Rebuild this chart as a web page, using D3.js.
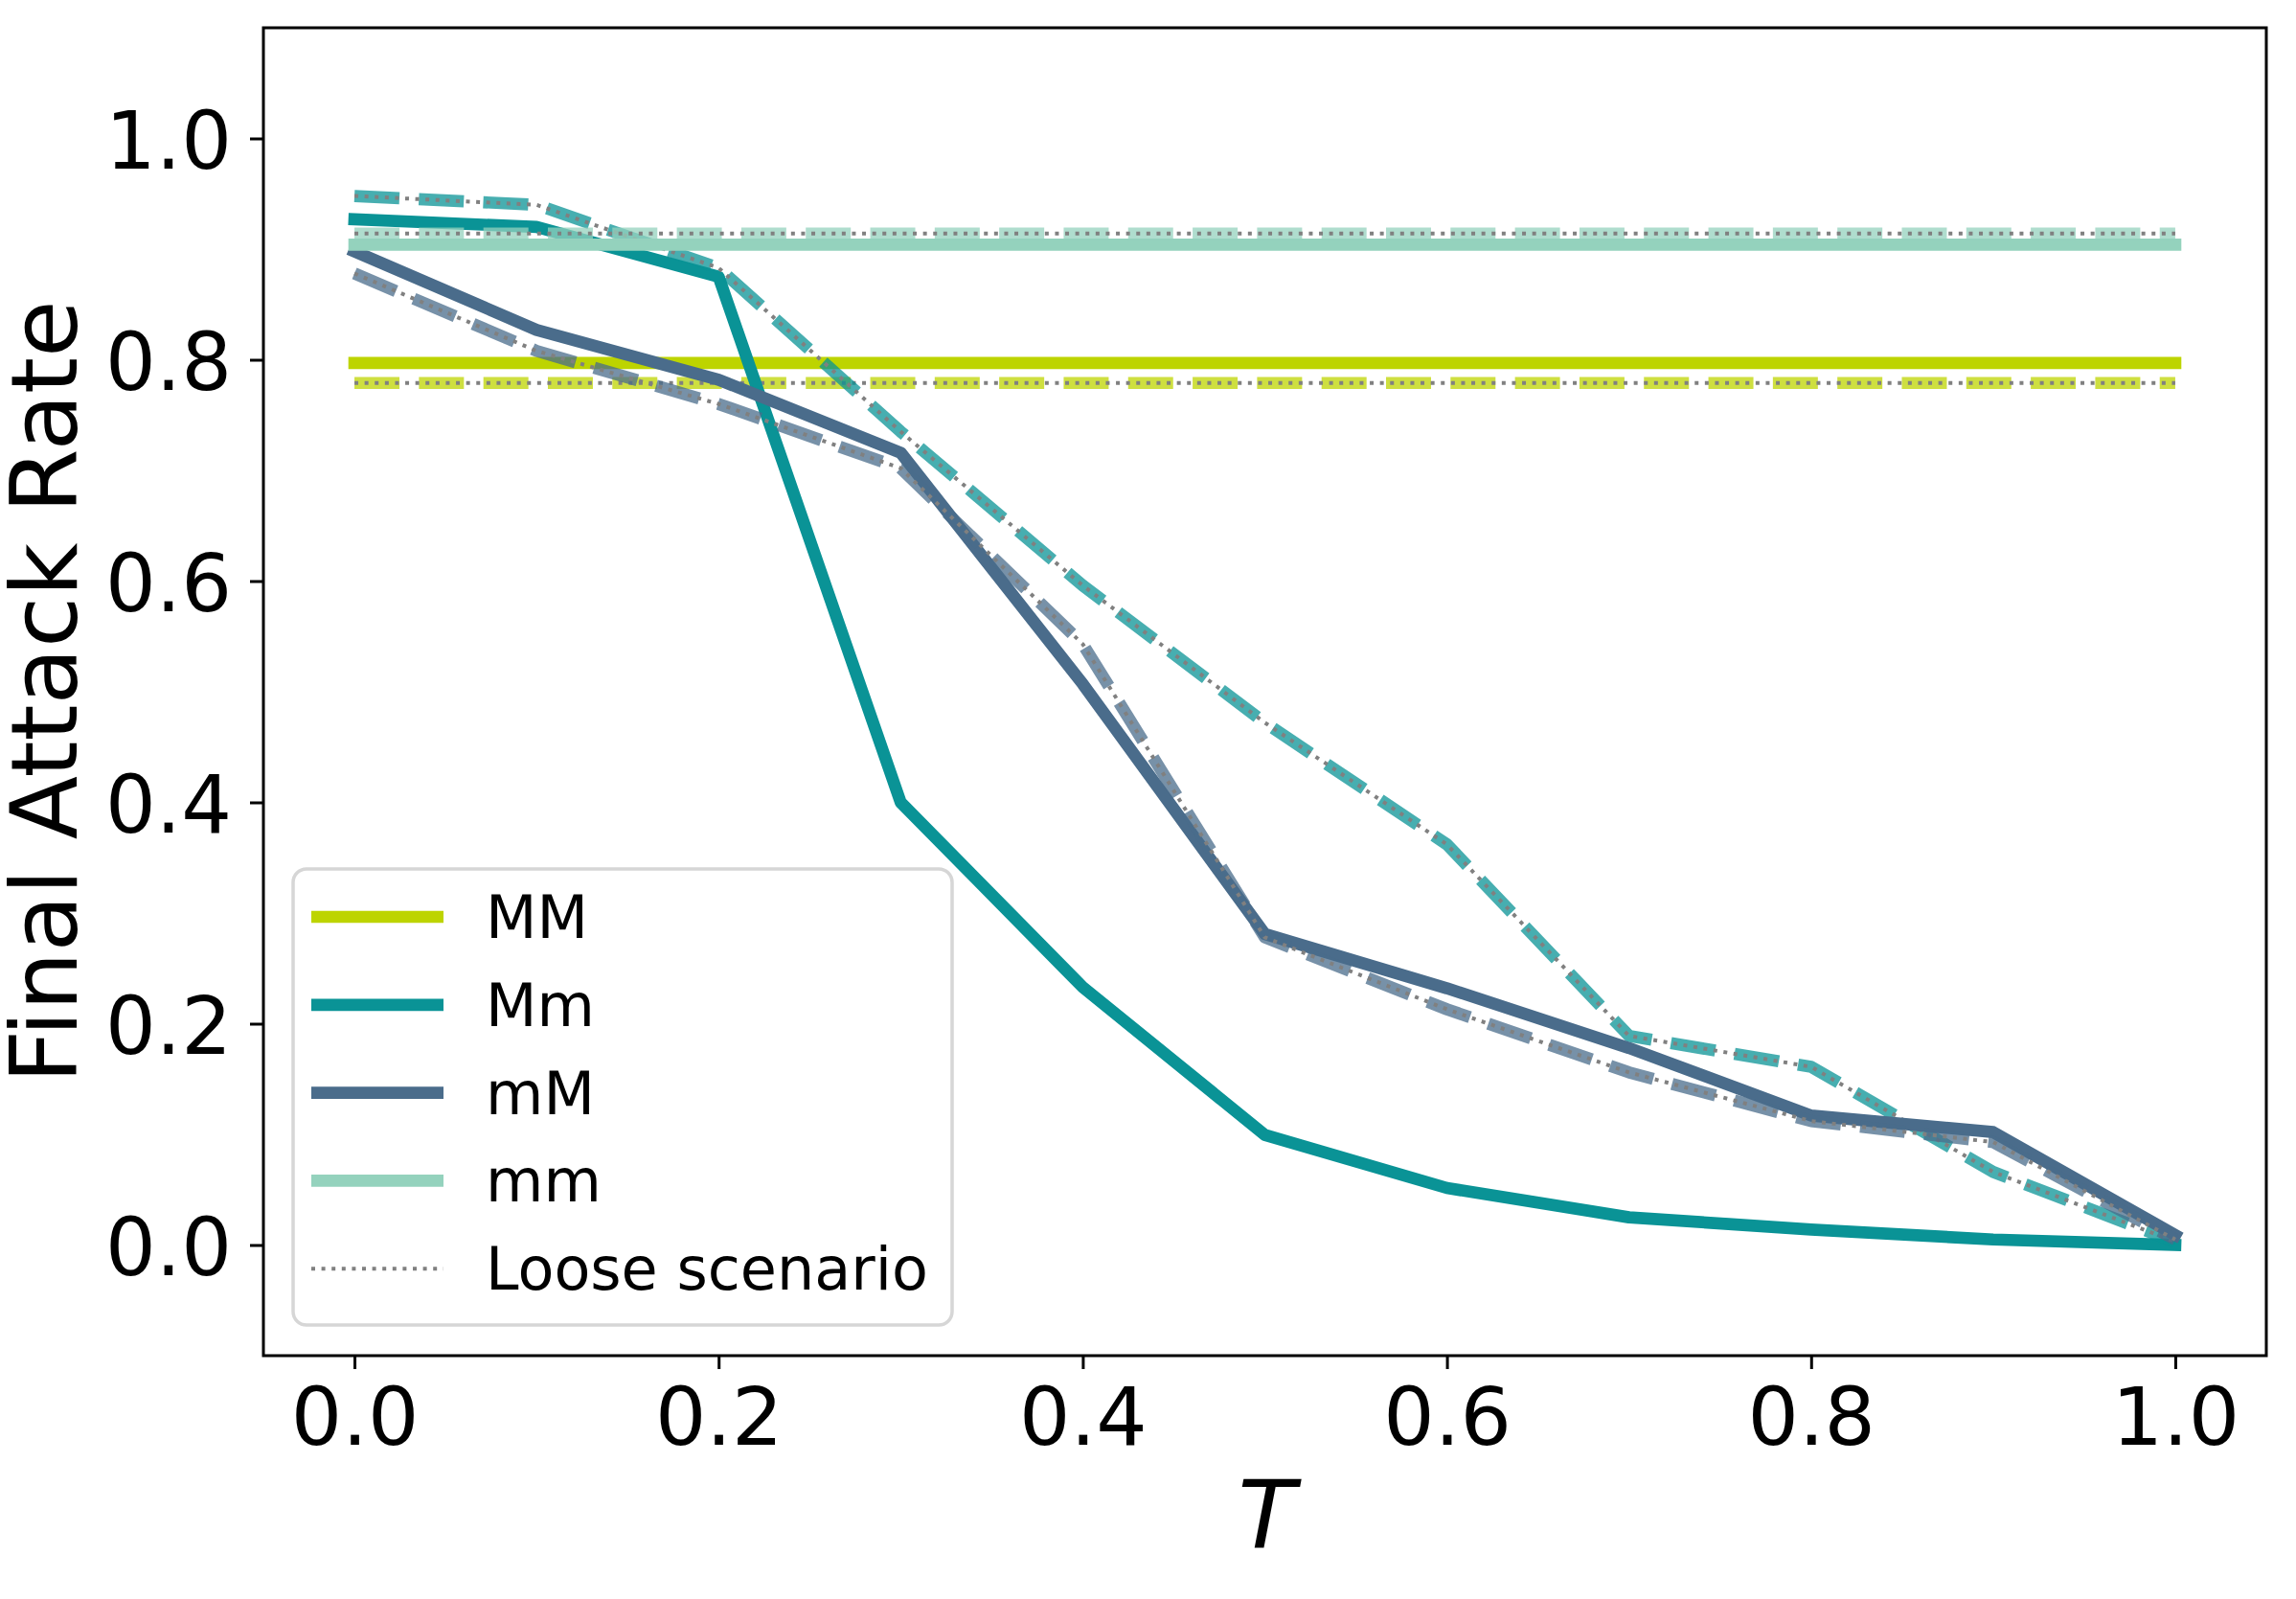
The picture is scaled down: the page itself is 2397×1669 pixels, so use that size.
<!DOCTYPE html>
<html>
<head>
<meta charset="utf-8">
<script src="https://cdn.jsdelivr.net/npm/d3@7"></script>
<style>
  body { margin: 0; background: #fff; }
  svg { display: block; font-family: "DejaVu Sans", sans-serif; }
</style>
</head>
<body>
<div id="chart"></div>
<script>
// data (T = 0 .. 1 in steps of 0.1)
var T = [0.0, 0.1, 0.2, 0.3, 0.4, 0.5, 0.6, 0.7, 0.8, 0.9, 1.0]

var MM_strict = [0.797, 0.797, 0.797, 0.797, 0.797, 0.797, 0.797, 0.797, 0.797, 0.797, 0.797]
var MM_loose  = [0.779, 0.779, 0.779, 0.779, 0.779, 0.779, 0.779, 0.779, 0.779, 0.779, 0.779]
var Mm_strict = [0.927, 0.920, 0.875, 0.400, 0.233, 0.0995, 0.0515, 0.025, 0.014, 0.005, 0.000]
var Mm_loose  = [0.948, 0.940, 0.883, 0.735, 0.596, 0.472, 0.362, 0.189, 0.161, 0.066, 0.003]
var mM_strict = [0.898, 0.827, 0.782, 0.716, 0.507, 0.281, 0.232, 0.178, 0.117, 0.102, 0.009]
var mM_loose  = [0.878, 0.808, 0.760, 0.702, 0.543, 0.278, 0.213, 0.156, 0.112, 0.093, 0.005]
var mm_strict = [0.904, 0.904, 0.904, 0.904, 0.904, 0.904, 0.904, 0.904, 0.904, 0.904, 0.904]
var mm_loose  = [0.914, 0.914, 0.914, 0.914, 0.914, 0.914, 0.914, 0.914, 0.914, 0.914, 0.914]

var groups = ["MM", "Mm", "mM", "mm"]
var colors = ["#bdd400", "#0a9396", "#4a6c8b", "#94d2bd"]
var strict = [MM_strict, Mm_strict, mM_strict, mm_strict]
var loose = [MM_loose, Mm_loose, mM_loose, mm_loose]

var xTicks = [0, 0.2, 0.4, 0.6, 0.8, 1.0]
var yTicks = [0, 0.2, 0.4, 0.6, 0.8, 1.0]

// dimensions (plot area in page pixels)
var width = 2397,
    height = 1669
var pLeft = 275, pRight = 2366, pTop = 29, pBottom = 1415
var lw = 12.7

var svg = d3.select("#chart")
  .append("svg")
    .attr("width", width)
    .attr("height", height)

var x = d3.scaleLinear().domain([-0.05, 1.05]).range([pLeft, pRight])
var y = d3.scaleLinear().domain([-0.1, 1.1]).range([pBottom, pTop])

var line = d3.line()
  .x(function(d) { return x(d[0]) })
  .y(function(d) { return y(d[1]) })

function pts(vals) { return T.map(function(t, i) { return [t, vals[i]] }) }

// lines: solid = strict, dashed + grey dots = loose scenario
groups.forEach(function(g, i) {
  svg.append("path")
    .attr("d", line(pts(strict[i])))
    .attr("fill", "none")
    .attr("stroke", colors[i])
    .attr("stroke-width", lw)
    .attr("stroke-linecap", "square")
    .attr("stroke-linejoin", "round")

  svg.append("path")
    .attr("d", line(pts(loose[i])))
    .attr("fill", "none")
    .attr("stroke", colors[i])
    .attr("stroke-opacity", 0.75)
    .attr("stroke-width", lw)
    .attr("stroke-dasharray", (3.7 * lw) + "," + (1.6 * lw))
    .attr("stroke-linejoin", "round")

  svg.append("path")
    .attr("d", line(pts(loose[i])))
    .attr("fill", "none")
    .attr("stroke", "#808080")
    .attr("stroke-width", 4)
    .attr("stroke-dasharray", "4,6.6")
    .attr("stroke-linejoin", "round")
})

// axes
var xAxis = svg.append("g")
  .attr("transform", "translate(0," + pBottom + ")")
  .call(d3.axisBottom(x).tickValues(xTicks).tickFormat(d3.format(".1f")).tickSize(14).tickSizeOuter(0))
xAxis.select(".domain").remove()
xAxis.selectAll("line").attr("stroke", "#000").attr("stroke-width", 3)
xAxis.selectAll("text")
  .attr("y", 93).attr("dy", 0)
  .attr("font-size", 84).attr("font-family", "DejaVu Sans").attr("fill", "#000")

var yAxis = svg.append("g")
  .attr("transform", "translate(" + pLeft + ",0)")
  .call(d3.axisLeft(y).tickValues(yTicks).tickFormat(d3.format(".1f")).tickSize(14).tickSizeOuter(0))
yAxis.select(".domain").remove()
yAxis.selectAll("line").attr("stroke", "#000").attr("stroke-width", 3)
yAxis.selectAll("text")
  .attr("x", -33).attr("dy", 0).attr("y", 31)
  .attr("font-size", 83).attr("font-family", "DejaVu Sans").attr("fill", "#000")

// frame
svg.append("rect")
  .attr("x", pLeft).attr("y", pTop)
  .attr("width", pRight - pLeft).attr("height", pBottom - pTop)
  .attr("fill", "none").attr("stroke", "#000").attr("stroke-width", 3)

// axis labels
svg.append("text")
  .attr("transform", "translate(80," + (pTop + pBottom) / 2 + ") rotate(-90)")
  .attr("text-anchor", "middle")
  .attr("font-size", 97)
  .text("Final Attack Rate")

svg.append("text")
  .attr("x", (pLeft + pRight) / 2 + 2)
  .attr("y", 1615)
  .attr("text-anchor", "middle")
  .attr("font-size", 98)
  .attr("font-style", "italic")
  .text("T")

// legend
var legend = svg.append("g")
legend.append("rect")
  .attr("x", 306).attr("y", 907)
  .attr("width", 688).attr("height", 476)
  .attr("rx", 14).attr("ry", 14)
  .attr("fill", "#fff").attr("fill-opacity", 0.8)
  .attr("stroke", "#d6d6d6").attr("stroke-width", 3.5)

var legendItems = groups.concat(["Loose scenario"])
legendItems.forEach(function(name, i) {
  var ly = 957 + i * 91.8
  var l = legend.append("line")
    .attr("x1", 325).attr("x2", 463)
    .attr("y1", ly).attr("y2", ly)
  if (i < groups.length) {
    l.attr("stroke", colors[i]).attr("stroke-width", lw)
  } else {
    l.attr("stroke", "#808080").attr("stroke-width", 4).attr("stroke-dasharray", "4,6.6")
  }
  legend.append("text")
    .attr("x", 507).attr("y", ly + 22)
    .attr("font-size", 62)
    .text(name)
})
</script>
</body>
</html>
